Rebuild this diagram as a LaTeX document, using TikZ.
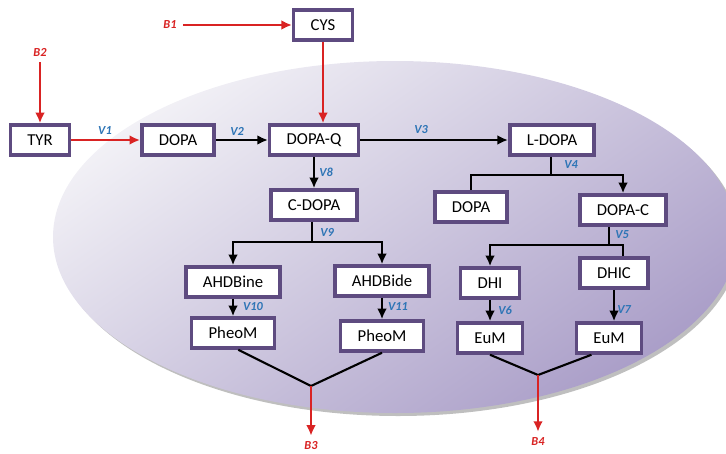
\documentclass[tikz,border=0pt]{standalone}
\usepackage{fontspec}
\setmainfont{Carlito}
\usetikzlibrary{positioning,arrows.meta}
\definecolor{boxline}{HTML}{5E4B80}
\definecolor{vblue}{HTML}{2E75B6}
\definecolor{bred}{HTML}{D92323}
\definecolor{cellhi}{HTML}{F2F1F6}
\definecolor{celllo}{HTML}{AA9EC8}
\begin{document}
\begin{tikzpicture}[x=0.02cm,y=-0.02cm,>={Latex[length=6pt,width=5.5pt]}]
\tikzset{met/.style={draw=boxline,line width=2pt,fill=white,
                     minimum height=0.6cm,
                     inner xsep=0.34cm,
                     font=\fontsize{9.5}{10}\selectfont},
         flux/.style={font=\fontsize{7}{8}\selectfont\bfseries\itshape,text=vblue},
         bnd/.style={font=\fontsize{7}{8}\selectfont\bfseries\itshape,text=bred},
         lnk/.style={line width=1.2pt},
         rlnk/.style={line width=1.2pt,draw=bred,fill=bred}
}
\useasboundingbox (0,0) rectangle (726,453);
% cell
\fill[gray!50] (398,240) ellipse [x radius=342, y radius=176];
\shade[top color=cellhi,bottom color=celllo,shading angle=35] (395,237) ellipse [x radius=342, y radius=176];
% metabolites
\node[met] (TYR)    at (40,140)  {TYR};
\node[met] (DOPAa)  at (178,140) {DOPA};
\node[met] (DOPAQ)  at (314,140) {DOPA-Q};
\node[met] (CYS)    at (323,25)  {CYS};
\node[met] (LDOPA)  at (552,140) {L-DOPA};
\node[met] (CDOPA)  at (314,205) {C-DOPA};
\node[met] (DOPAb)  at (471,207) {DOPA};
\node[met] (DOPAC)  at (623,210) {DOPA-C};
\node[met] (AHDBine) at (233,282) {AHDBine};
\node[met] (AHDBide) at (382,281) {AHDBide};
\node[met] (DHI)    at (490,283) {DHI};
\node[met] (DHIC)   at (614,273) {DHIC};
\node[met] (PheoMa) at (233,333) {PheoM};
\node[met] (PheoMb) at (382,336) {PheoM};
\node[met] (EuMa)   at (490,338) {EuM};
\node[met] (EuMb)   at (609,338) {EuM};
% boundary fluxes
\node[bnd] (B1) at (170,25)  {B1};
\node[bnd] (B2) at (40,52)   {B2};
\node[bnd] (B3) at (311,446) {B3};
\node[bnd] (B4) at (538,442) {B4};
\draw[rlnk,->] (B1) -- (CYS);
\draw[rlnk,->] (B2) -- (TYR);
\draw[rlnk,->] (TYR) -- (DOPAa);
\draw[rlnk,->] (CYS.south) -- (CYS.south|-DOPAQ.north);
% internal fluxes
\draw[lnk,->] (DOPAa) -- (DOPAQ);
\draw[lnk,->] (DOPAQ) -- (LDOPA);
\draw[lnk,->] (DOPAQ) -- (CDOPA);
\coordinate (b4) at (551,175);
\draw[lnk] (LDOPA.south-|b4) -- (b4);
\draw[lnk] (b4) -| (DOPAb);
\draw[lnk,->] (b4) -| (DOPAC);
\coordinate (b5) at (609,245);
\draw[lnk] (DOPAC.south-|b5) -- (b5);
\draw[lnk,->] (b5) -| (DHI);
\draw[lnk] (b5) -| ([xshift=5]DHIC.north);
\coordinate (b9) at (312,242);
\draw[lnk] (CDOPA.south-|b9) -- (b9);
\draw[lnk,->] (b9) -| (AHDBine);
\draw[lnk,->] (b9) -| (AHDBide);
\draw[lnk,->] (AHDBine) -- (PheoMa);
\draw[lnk,->] (AHDBide) -- (PheoMb);
\draw[lnk,->] (DHI) -- (EuMa);
\draw[lnk,->] (DHIC.south) -- (DHIC.south|-EuMb.north);
% melanin out
\coordinate (j3) at (311,386);
\coordinate (j4) at (538,375);
\draw[lnk] ([xshift=3]PheoMa.south) -- (j3) -- (PheoMb.south);
\draw[lnk] (EuMa.south) -- (j4) -- ([xshift=-10]EuMb.south);
\draw[rlnk,->] (j3) -- (B3);
\draw[rlnk,->] (j4) -- (B4);
% flux names
\node[flux] (V1)  at (105,131) {V1};
\node[flux] (V2)  at (237,131) {V2};
\node[flux] (V3)  at (421,130) {V3};
\node[flux] (V4)  at (571,165) {V4};
\node[flux] (V5)  at (622,235) {V5};
\node[flux] (V6)  at (505,310) {V6};
\node[flux] (V7)  at (624,310) {V7};
\node[flux] (V8)  at (326,172) {V8};
\node[flux] (V9)  at (327,232) {V9};
\node[flux] (V10) at (253,307) {V10};
\node[flux] (V11) at (398,307) {V11};
\end{tikzpicture}
\end{document}
